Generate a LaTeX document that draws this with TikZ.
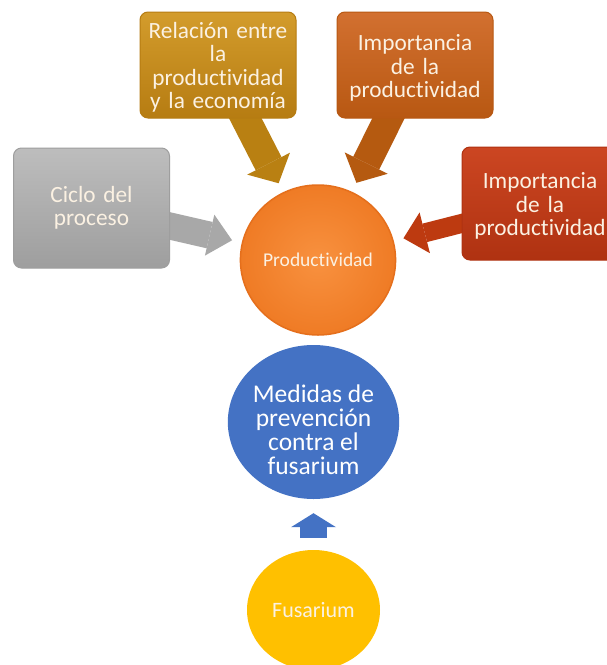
\documentclass[tikz,border=0pt]{standalone}
\usepackage{fontspec}
\setmainfont{Carlito}[Ligatures=NoCommon]
\usetikzlibrary{arrows.meta,shapes.geometric,backgrounds}
\definecolor{goldT}{HTML}{D39C2C}
\definecolor{goldB}{HTML}{B67C12}
\definecolor{goldA}{HTML}{B98012}
\definecolor{oranT}{HTML}{D27030}
\definecolor{oranB}{HTML}{B85812}
\definecolor{oranA}{HTML}{B55A10}
\definecolor{grayT}{HTML}{BDBDBD}
\definecolor{grayB}{HTML}{9E9E9E}
\definecolor{grayA}{HTML}{A8A8A8}
\definecolor{redT}{HTML}{CC4622}
\definecolor{redB}{HTML}{AF3211}
\definecolor{redA}{HTML}{BD3A10}
\definecolor{prodIn}{HTML}{F8913F}
\definecolor{prodOut}{HTML}{EF7B25}
\definecolor{prodRim}{HTML}{E56F1C}
\definecolor{blueC}{HTML}{4472C4}
\definecolor{yelC}{HTML}{FFC000}
\definecolor{boxtext}{HTML}{FBF1E2}
\newcommand\tiX{t\kern0pt i}
\newcommand\lowerby[2]{\raisebox{0pt}[\dimexpr\height+#1\relax]{#2}}
\begin{document}
\begin{tikzpicture}[x=1pt,y=-1pt,
  box/.style={rectangle, rounded corners=8pt, minimum width=156pt, minimum height=106pt,
    text width=156pt, align=center, inner sep=0pt, text=boxtext,
    font=\fontsize{23.3}{23.5}\selectfont},
  barrow/.style={line width=#1, shorten >=10pt, shorten <=-15pt},
  bloc/.style={ellipse, inner sep=0pt, align=center}
]
\useasboundingbox (0,0) rectangle (607,665);
\clip (0,0) rectangle (607,665);

% boxes
\node[box, top color=goldT, bottom color=goldB, draw=goldB, line width=1pt] (rel) at (218,65)
  {\lowerby{5pt}{Relación entre}\\la\\produc\tiX vidad\\y la economía};
\node[box, top color=oranT, bottom color=oranB, draw=oranB, line width=1pt] (imp) at (415,65)
  {\lowerby{6pt}{Importancia}\\de la\\produc\tiX vidad};
\node[box, top color=grayT, bottom color=grayB, draw=grayB, line width=1pt, minimum height=120pt] (cic) at (91.5,208)
  {Ciclo del\\proceso};
\node[box, top color=redT, bottom color=redB, draw=redB, line width=1pt, minimum height=113pt] (impr) at (540,203.5)
  {\lowerby{5pt}{Importancia}\\de la\\produc\tiX vidad};

% circles
\node[bloc, minimum width=150pt, minimum height=150pt, inner color=prodIn, outer color=prodOut,
  draw=prodRim, line width=1.5pt, text=boxtext, font=\fontsize{19.5}{22}\selectfont] (prod) at (318,260) {Produc\tiX vidad};
\node[bloc, minimum width=161pt, minimum height=154pt, fill=blueC, text=white,
  font=\fontsize{25.5}{24}\selectfont] (med) at (313.5,422) {\lowerby{16pt}{Medidas de}\\prevención\\contra el\\fusarium};
\node[bloc, minimum width=133pt, minimum height=120pt, fill=yelC, text=boxtext,
  font=\fontsize{22}{24}\selectfont] (fus) at (313.5,610) {Fusarium};

% block arrows
\begin{scope}[on background layer]
\fill[white] (0,0) rectangle (607,665);
\draw[barrow=29pt, draw=goldA, -{Triangle[width=48pt,length=22pt,line width=0pt]}] (rel) -- (prod);
\draw[barrow=29pt, draw=oranA, -{Triangle[width=48pt,length=22pt,line width=0pt]}] (imp) -- (prod);
\draw[barrow=27pt, draw=grayA, -{Triangle[width=42pt,length=23pt,line width=0pt]}] (cic) -- (prod);
\draw[barrow=19pt, draw=redA, -{Triangle[width=42pt,length=22pt,line width=0pt]}] (impr) -- (prod);
\end{scope}
\draw[line width=27pt, draw=blueC, shorten >=14pt, shorten <=12pt,
  -{Triangle[width=45pt,length=14pt,line width=0pt]}] (fus) -- (med);
\end{tikzpicture}
\end{document}
